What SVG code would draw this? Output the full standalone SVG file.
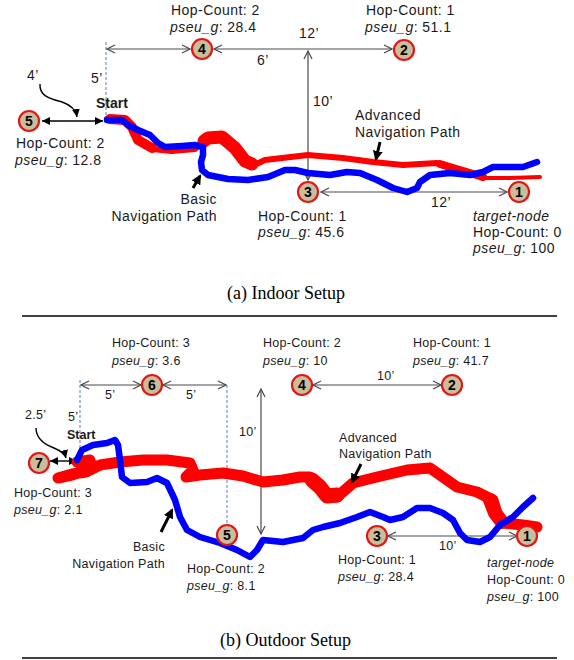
<svg xmlns="http://www.w3.org/2000/svg" width="574" height="660" viewBox="0 0 574 660">
<defs>
<style>
.t{font-family:"Liberation Sans",Arial,sans-serif;font-size:14px;letter-spacing:0.45px;fill:#1a1a1a}
.s{font-size:12.5px;letter-spacing:0.3px}
.i{font-style:italic}
.b{font-weight:bold;letter-spacing:0}
.num{font-family:"Liberation Sans",Arial,sans-serif;font-size:14px;font-weight:bold;fill:#000;text-anchor:middle}
.cap{font-family:"Liberation Serif","Times New Roman",serif;font-size:18px;fill:#000}
.node{fill:#c9bd9c;stroke:#e01818;stroke-width:2.2}
.dim{fill:none;stroke:#4a4a4a;stroke-width:1.2;marker-start:url(#open);marker-end:url(#open)}
.dash{fill:none;stroke:#4f81bd;stroke-width:1;stroke-dasharray:3 2}
.red{fill:none;stroke:#ff0000;stroke-linejoin:round;stroke-linecap:round}
.blue{fill:none;stroke:#0000ff;stroke-width:6.5;stroke-linejoin:round;stroke-linecap:round}
.blk{fill:none;stroke:#000;stroke-width:1.4}
.ptr{fill:none;stroke:#000;stroke-width:3;marker-end:url(#fat)}
.rule{stroke:#000;stroke-width:1.5}
</style>
<marker id="open" viewBox="0 0 10 10" refX="9" refY="5" markerWidth="10" markerHeight="10" markerUnits="userSpaceOnUse" orient="auto-start-reverse">
<path d="M1,1 L9,5 L1,9" fill="none" stroke="#4a4a4a" stroke-width="1.2"/>
</marker>
<marker id="fill" viewBox="0 0 8 8" refX="8" refY="4" markerWidth="8" markerHeight="8" markerUnits="userSpaceOnUse" orient="auto-start-reverse">
<path d="M0,0 L8,4 L0,8 z" fill="#000"/>
</marker>
<marker id="fat" viewBox="0 0 10 10" refX="8" refY="5" markerWidth="10" markerHeight="10" markerUnits="userSpaceOnUse" orient="auto">
<path d="M0,0 L10,5 L0,10 z" fill="#000"/>
</marker>
</defs>

<g id="connectors">
<!-- top panel -->
<line class="dash" x1="106" y1="42" x2="106" y2="118"/>
<line class="dim" x1="107" y1="49" x2="190" y2="49"/>
<line class="dim" x1="214" y1="49" x2="392" y2="49"/>
<line class="dim" x1="308" y1="51" x2="308" y2="180"/>
<line class="dim" x1="321" y1="192" x2="507" y2="192"/>
<line class="blk" x1="42" y1="121" x2="103" y2="121" marker-start="url(#fill)" marker-end="url(#fill)"/>
<path class="blk" d="M40,84 C39,97 52,99 62,102 C71,105 76,110 77,117" marker-end="url(#fill)"/>
<!-- bottom panel -->
<line class="dash" x1="80" y1="380" x2="80" y2="458"/>
<line class="dash" x1="227" y1="385" x2="227" y2="525"/>
<line class="dim" x1="81" y1="385" x2="141" y2="385"/>
<line class="dim" x1="163" y1="385" x2="226" y2="385"/>
<line class="dim" x1="313" y1="385" x2="441" y2="385"/>
<line class="dim" x1="261" y1="389" x2="261" y2="534"/>
<line class="dim" x1="388" y1="536" x2="517" y2="536"/>
<line class="blk" x1="50" y1="461" x2="77" y2="461" marker-start="url(#fill)" marker-end="url(#fill)"/>
<path class="blk" d="M36,428 C36,440 46,445 54,448 C61,451 65,454 66,458" marker-end="url(#fill)"/>
</g>

<g id="paths-top">
<polyline class="red" stroke-width="6" points="107,119 125,120 132,127 138,140 152,149 172,151 195,149 208,138 222,137 235,148 245,162 252,166 265,160 282,158 308,155 343,158 373,162 403,165 437,163 453,168 470,173 483,178"/>
<polyline class="red" stroke-width="10" points="110,119 125,120 132,127 138,140 152,148"/>
<polyline class="red" stroke-width="13" points="204,141 208,138 222,137 235,148 245,161 252,164"/>
<polyline class="red" stroke-width="8" points="440,164 453,168 470,173 483,177"/>
<polyline class="red" stroke-width="4" points="483,178 510,178 540,177"/>
<polyline class="blue" points="107,120 122,120 128,125 138,130 150,135 158,143 165,147 182,146 195,145 203,147 203,155 201,162 202,170 208,175 228,179 248,180 268,177 285,170 295,170 308,173 330,175 347,172 360,173 377,180 393,188 407,192 417,188 420,182 430,175 450,173 470,175 483,172 493,167 510,167 523,167 537,162"/>
<line class="ptr" x1="193" y1="188" x2="200" y2="176"/>
<line class="ptr" x1="380" y1="142" x2="376" y2="159"/>
</g>

<g id="paths-bottom">
<polyline class="red" stroke-width="11" points="77,462 90,460 92,468 72,475 58,478 72,474 86,472 100,465 120,462 143,460 167,460 190,463 193,470 186,477 200,475 223,473 243,476 263,482 283,480 300,477 310,477 320,487 327,497 337,497 345,490 353,483 377,477 407,470 430,468 440,475 457,487 477,492 493,500 497,513 503,523 523,525 537,527"/>
<polyline class="red" stroke-width="15" points="312,480 320,487 327,496 337,495"/>
<polyline class="red" stroke-width="14" points="490,500 495,513 502,522"/>
<polyline class="blue" points="77,460 82,450 93,445 107,443 115,440 118,445 120,460 122,477 130,483 147,482 157,478 167,483 175,500 180,517 187,530 200,537 220,543 237,550 250,557 257,550 263,540 283,542 303,538 313,530 323,527 340,523 357,517 370,512 383,517 390,520 403,517 417,508 430,508 443,513 453,520 460,533 467,540 480,542 490,537 500,525 513,517 523,507 533,498"/>
<line class="ptr" x1="161" y1="532" x2="172" y2="510"/>
<line class="ptr" x1="361" y1="464" x2="352" y2="482"/>
</g>

<!-- top panel nodes -->
<g id="a-node4"><circle class="node" cx="202" cy="49" r="10"/><text class="num" x="202" y="54">4</text></g>
<g id="a-node2"><circle class="node" cx="404" cy="50" r="10"/><text class="num" x="404" y="55">2</text></g>
<g id="a-node5"><circle class="node" cx="29" cy="121" r="10"/><text class="num" x="29" y="126">5</text></g>
<g id="a-node3"><circle class="node" cx="308" cy="192" r="10"/><text class="num" x="308" y="197">3</text></g>
<g id="a-node1"><circle class="node" cx="519" cy="192" r="10"/><text class="num" x="519" y="197">1</text></g>

<!-- bottom panel nodes -->
<g id="b-node6"><circle class="node" cx="152" cy="385" r="10"/><text class="num" x="152" y="390">6</text></g>
<g id="b-node4"><circle class="node" cx="302" cy="385" r="10"/><text class="num" x="302" y="390">4</text></g>
<g id="b-node2"><circle class="node" cx="452" cy="385" r="10"/><text class="num" x="452" y="390">2</text></g>
<g id="b-node7"><circle class="node" cx="39" cy="463" r="10"/><text class="num" x="39" y="468">7</text></g>
<g id="b-node5"><circle class="node" cx="227" cy="535" r="10"/><text class="num" x="227" y="540">5</text></g>
<g id="b-node3"><circle class="node" cx="377" cy="536" r="10"/><text class="num" x="377" y="541">3</text></g>
<g id="b-node1"><circle class="node" cx="527" cy="536" r="10"/><text class="num" x="527" y="541">1</text></g>

<g id="labels-top">
<text class="t" x="171" y="15">Hop-Count: 2</text>
<text class="t" x="170" y="32"><tspan class="i">pseu_g</tspan>: 28.4</text>
<text class="t" x="366" y="15">Hop-Count: 1</text>
<text class="t" x="365" y="32"><tspan class="i">pseu_g</tspan>: 51.1</text>
<text class="t" x="299" y="38">12’</text>
<text class="t" x="257" y="65">6’</text>
<text class="t" x="313" y="106">10’</text>
<text class="t" x="91" y="83">5’</text>
<text class="t" x="27" y="80">4’</text>
<text class="t b" x="96" y="108">Start</text>
<text class="t" x="16" y="148">Hop-Count: 2</text>
<text class="t" x="15" y="165"><tspan class="i">pseu_g</tspan>: 12.8</text>
<text class="t" x="217" y="204" text-anchor="end">Basic</text>
<text class="t" x="217" y="221" text-anchor="end">Navigation Path</text>
<text class="t" x="355" y="120">Advanced</text>
<text class="t" x="355" y="137">Navigation Path</text>
<text class="t" x="431" y="207">12’</text>
<text class="t" x="258" y="221">Hop-Count: 1</text>
<text class="t" x="258" y="237"><tspan class="i">pseu_g</tspan>: 45.6</text>
<text class="t i" x="473" y="221">target-node</text>
<text class="t" x="473" y="237">Hop-Count: 0</text>
<text class="t" x="473" y="253"><tspan class="i">pseu_g</tspan>: 100</text>
<text class="cap" x="227" y="299">(a) Indoor Setup</text>
<line class="rule" x1="22" y1="316" x2="557" y2="316"/>
</g>

<g id="labels-bottom">
<text class="t s" x="112" y="347">Hop-Count: 3</text>
<text class="t s" x="112" y="365"><tspan class="i">pseu_g</tspan>: 3.6</text>
<text class="t s" x="263" y="347">Hop-Count: 2</text>
<text class="t s" x="263" y="365"><tspan class="i">pseu_g</tspan>: 10</text>
<text class="t s" x="413" y="347">Hop-Count: 1</text>
<text class="t s" x="413" y="365"><tspan class="i">pseu_g</tspan>: 41.7</text>
<text class="t s" x="377" y="380">10’</text>
<text class="t s" x="105" y="399">5’</text>
<text class="t s" x="186" y="399">5’</text>
<text class="t s" x="68" y="421">5’</text>
<text class="t s" x="25" y="419">2.5’</text>
<text class="t s b" x="67" y="439">Start</text>
<text class="t s" x="239" y="436">10’</text>
<text class="t s" x="339" y="442">Advanced</text>
<text class="t s" x="339" y="458">Navigation Path</text>
<text class="t s" x="14" y="497">Hop-Count: 3</text>
<text class="t s" x="14" y="514"><tspan class="i">pseu_g</tspan>: 2.1</text>
<text class="t s" x="165" y="551" text-anchor="end">Basic</text>
<text class="t s" x="165" y="568" text-anchor="end">Navigation Path</text>
<text class="t s" x="187" y="573">Hop-Count: 2</text>
<text class="t s" x="187" y="590"><tspan class="i">pseu_g</tspan>: 8.1</text>
<text class="t s" x="439" y="550">10’</text>
<text class="t s" x="338" y="564">Hop-Count: 1</text>
<text class="t s" x="338" y="581"><tspan class="i">pseu_g</tspan>: 28.4</text>
<text class="t s i" x="487" y="567">target-node</text>
<text class="t s" x="487" y="584">Hop-Count: 0</text>
<text class="t s" x="487" y="601"><tspan class="i">pseu_g</tspan>: 100</text>
<text class="cap" x="220" y="646">(b) Outdoor Setup</text>
<line class="rule" x1="22" y1="658" x2="557" y2="658"/>
</g>
</svg>
